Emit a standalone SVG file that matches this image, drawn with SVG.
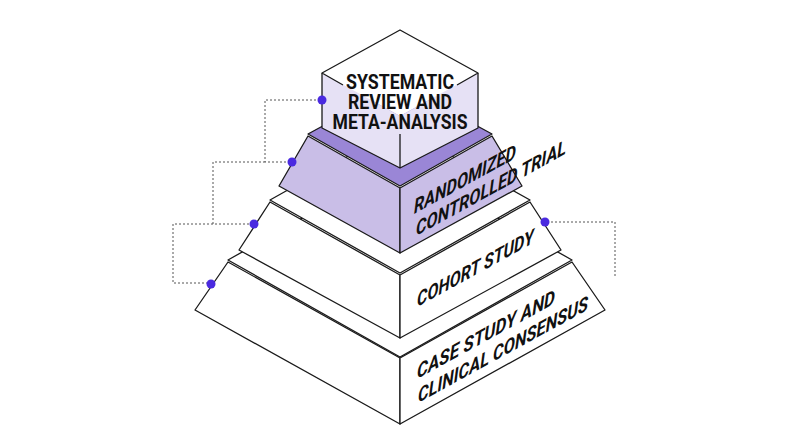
<svg xmlns="http://www.w3.org/2000/svg" width="800" height="446" viewBox="0 0 800 446">
<style>
.e{stroke:#1a1a1a;stroke-width:1.3;stroke-linejoin:round}
.w{fill:#fff}
.d{fill:none;stroke:#555;stroke-width:1;stroke-dasharray:2 2}
.dot{fill:#4a2ae0}
.t{font-family:Roboto,"Liberation Sans",sans-serif;font-weight:bold;font-size:20px;fill:#111}
.s{font-family:Roboto,"Liberation Sans",sans-serif;font-weight:bold;font-style:italic;font-size:20px;fill:#111}
</style>
<rect width="800" height="446" fill="#fff"/>
<g id="connectors">
<polyline class="d" points="320,100 265,100 265,162 290,162"/>
<polyline class="d" points="265,162 213,162 213,224 252,224"/>
<polyline class="d" points="213,224 173,224 173,283 209,283"/>
<polyline class="d" points="547,222 615,222 615,278"/>
</g>
<g id="tier-case">
<polygon class="e w" points="228,260 400,163 572,260 400,357"/>
<polygon class="e w" points="228,262 400,358 400,424 195,310"/>
<polygon class="e w" points="572,262 400,358 400,424 605,310"/>
<text class="s" transform="matrix(1,-0.55,0,1,417,379)" textLength="138" lengthAdjust="spacingAndGlyphs">CASE STUDY AND</text>
<text class="s" transform="matrix(1,-0.55,0,1,418,403)" textLength="170" lengthAdjust="spacingAndGlyphs">CLINICAL CONSENSUS</text>
</g>
<g id="tier-cohort">
<polygon class="e w" points="270,200 400,127 530,200 400,273"/>
<polygon class="e w" points="270,202 400,275 400,338 239,250"/>
<polygon class="e w" points="530,202 400,275 400,338 561,250"/>
<text class="s" transform="matrix(1,-0.55,0,1,417,307)" textLength="117" lengthAdjust="spacingAndGlyphs">COHORT STUDY</text>
</g>
<g id="tier-rct">
<polygon class="e" fill="#9a86d6" points="308,134 400,84 492,134 400,186"/>
<polygon class="e" fill="#c9bee7" points="308,136 400,188 400,253 279,186"/>
<polygon class="e" fill="#c9bee7" points="492,136 400,188 400,253 522,186"/>
<text class="s" transform="matrix(1,-0.55,0,1,414,214)" textLength="102" lengthAdjust="spacingAndGlyphs">RANDOMIZED</text>
<text class="s" transform="matrix(1,-0.55,0,1,416,236)" textLength="150" lengthAdjust="spacingAndGlyphs">CONTROLLED TRIAL</text>
</g>
<g id="tier-systematic">
<polygon class="w" points="400,30 478,73 400,116 322,73"/>
<polygon fill="#e6e1f5" points="322,73 400,116 400,168 322,128"/>
<polygon fill="#e6e1f5" points="478,73 400,116 400,168 478,128"/>
<polyline class="e" fill="none" points="343,85 322,73 400,30 478,73 457,85"/>
<polyline class="e" fill="none" points="322,73 322,128 400,168 478,128 478,73"/>
<line class="e" x1="400" y1="134" x2="400" y2="168"/>
<text class="t" x="400" y="89" text-anchor="middle" textLength="108" lengthAdjust="spacingAndGlyphs">SYSTEMATIC</text>
<text class="t" x="400" y="109" text-anchor="middle" textLength="104" lengthAdjust="spacingAndGlyphs">REVIEW AND</text>
<text class="t" x="400" y="129" text-anchor="middle" textLength="135" lengthAdjust="spacingAndGlyphs">META-ANALYSIS</text>
</g>
<g id="dots">
<circle class="dot" cx="322" cy="100" r="4.5"/>
<circle class="dot" cx="292" cy="162" r="4.5"/>
<circle class="dot" cx="254" cy="224" r="4.5"/>
<circle class="dot" cx="211" cy="284" r="4.5"/>
<circle class="dot" cx="545" cy="222" r="4.5"/>
</g>
</svg>
